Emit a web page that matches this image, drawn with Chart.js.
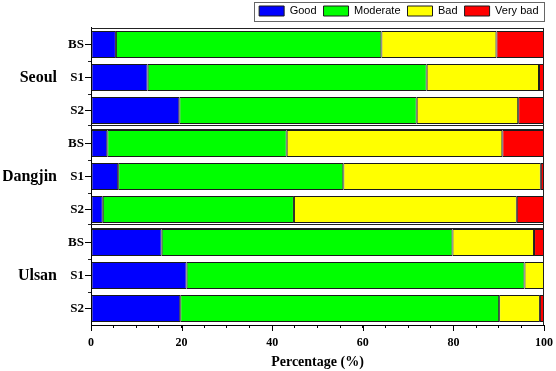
<!DOCTYPE html>
<html>
<head>
<meta charset="utf-8">
<script src="https://cdn.jsdelivr.net/npm/chart.js@4"></script>
<style>
  html, body { margin: 0; padding: 0; background: #fff; }
</style>
</head>
<body>
<canvas id="chart" width="556" height="371"></canvas>
<script>
// sites and scenarios (rows are site x scenario, top to bottom)
const sites = ['Seoul', 'Dangjin', 'Ulsan'];
const scenarios = ['BS', 'S1', 'S2'];

// share of days in each class (%), one value per row
const good     = [5.5, 12.5, 19.5, 3.6, 6.0, 2.6, 15.6, 21.1, 19.7];
const moderate = [58.6, 61.6, 52.4, 39.6, 49.7, 42.2, 64.2, 74.6, 70.4];
const bad      = [25.4, 24.8, 22.4, 47.6, 43.6, 49.2, 18.0, 4.3, 9.0];
const veryBad  = [10.5, 1.1, 5.7, 9.2, 0.7, 6.0, 2.2, 0, 0.9];

const rowLabels = sites.flatMap(() => scenarios);
// site name sits on the middle row of its block
const siteLabels = sites.flatMap(s => scenarios.map((c, i) => i === 1 ? s : ''));

const serif = "'Liberation Serif', 'Times New Roman', serif";
const sans = "'Liberation Sans', Arial, sans-serif";

const datasets = [
    { label: 'Good', data: good, backgroundColor: '#0000ff' },
    { label: 'Moderate', data: moderate, backgroundColor: '#00ff00' },
    { label: 'Bad', data: bad, backgroundColor: '#ffff00' },
    { label: 'Very bad', data: veryBad, backgroundColor: '#ff0000' }
].map(d => Object.assign(d, {
    borderColor: '#1a1a1a',
    borderWidth: 1,
    borderSkipped: false,
    barPercentage: 0.82,
    categoryPercentage: 1
}));

// frame around each site block, with a double rule between blocks
const blockFrames = {
    id: 'blockFrames',
    afterDatasetsDraw(chart) {
        const { ctx, chartArea: a, scales: { x, y } } = chart;
        const n = scenarios.length;
        ctx.save();
        ctx.strokeStyle = '#222';
        ctx.lineWidth = 1;
        ctx.beginPath();
        ctx.moveTo(a.left, Math.round(a.top) + 0.5);
        ctx.lineTo(a.right, Math.round(a.top) + 0.5);
        ctx.moveTo(Math.round(a.right) - 0.5, a.top);
        ctx.lineTo(Math.round(a.right) - 0.5, a.bottom);
        ctx.stroke();
        for (let k = 1; k < rowLabels.length; k++) {
            const yb = (y.getPixelForValue(k - 1) + y.getPixelForValue(k)) / 2;
            const y1 = Math.round(yb - 2) + 0.5;
            const y2 = Math.round(yb + 2) + 0.5;
            ctx.beginPath();
            if (k % n === 0) {
                ctx.fillStyle = '#fff';
                ctx.fillRect(a.left + 1, y1, a.right - a.left - 2, y2 - y1);
                ctx.moveTo(a.left - 3, y1);
                ctx.lineTo(a.right, y1);
                ctx.moveTo(a.left, y2);
                ctx.lineTo(a.right, y2);
            } else {
                // small minor tick between rows
                ctx.moveTo(a.left - 3, Math.round(yb) + 0.5);
                ctx.lineTo(a.left, Math.round(yb) + 0.5);
            }
            ctx.stroke();
        }
        // longer marks for the labelled x ticks
        ctx.strokeStyle = '#000';
        ctx.beginPath();
        x.ticks.forEach(t => {
            if (t.value % 20 !== 0) return;
            const px = Math.round(x.getPixelForValue(t.value)) + 0.5;
            ctx.moveTo(px, a.bottom);
            ctx.lineTo(px, a.bottom + 6);
        });
        ctx.stroke();
        ctx.restore();
    }
};

// thin box around the legend
const legendBox = {
    id: 'legendBox',
    afterDraw(chart) {
        const boxes = chart.legend.legendHitBoxes;
        if (!boxes || !boxes.length) return;
        const first = boxes[0];
        const last = boxes[boxes.length - 1];
        const left = Math.round(first.left - 5) + 0.5;
        const right = Math.round(last.left + last.width + 5) + 0.5;
        const top = Math.round(first.top - 4) + 0.5;
        const bottom = Math.round(first.top + first.height + 4) + 0.5;
        const ctx = chart.ctx;
        ctx.save();
        ctx.strokeStyle = '#666';
        ctx.lineWidth = 1;
        ctx.strokeRect(left, top, right - left, bottom - top);
        ctx.restore();
    }
};

new Chart(document.getElementById('chart'), {
    type: 'bar',
    data: { labels: rowLabels, datasets: datasets },
    plugins: [blockFrames, legendBox],
    options: {
        responsive: false,
        animation: false,
        devicePixelRatio: 1,
        indexAxis: 'y',
        layout: { padding: { left: 3, right: 10.5, top: -1.5, bottom: 0 } },
        plugins: {
            tooltip: { enabled: false },
            legend: {
                position: 'top',
                align: 'end',
                labels: {
                    boxWidth: 25,
                    boxHeight: 10,
                    padding: 7,
                    color: '#000',
                    font: { family: sans, size: 11 }
                }
            },
            subtitle: {
                display: true,
                text: '',
                weight: 500,
                padding: 0,
                font: { size: 1.2 }
            }
        },
        scales: {
            x: {
                stacked: true,
                min: 0,
                max: 100,
                afterFit: s => { s.paddingRight = 12; s.height = 46; },
                ticks: {
                    stepSize: 5,
                    autoSkip: false,
                    maxRotation: 0,
                    padding: 8,
                    color: '#000',
                    font: { family: serif, size: 12, weight: 'bold' },
                    callback: v => v % 20 === 0 ? v : ''
                },
                grid: { drawOnChartArea: false, tickLength: 3, color: '#000' },
                border: { color: '#000' },
                title: {
                    display: true,
                    text: 'Percentage (%)',
                    color: '#000',
                    padding: { top: 3, bottom: 0 },
                    font: { family: serif, size: 14, weight: 'bold' }
                }
            },
            y: {
                stacked: true,
                weight: 0,
                afterFit: s => { s.width = 26; },
                ticks: {
                    autoSkip: false,
                    padding: 1,
                    color: '#000',
                    font: { family: serif, size: 13, weight: 'bold' }
                },
                grid: { drawOnChartArea: false, offset: false, tickLength: 6, color: '#000' },
                border: { color: '#000' }
            },
            site: {
                type: 'category',
                position: 'left',
                labels: siteLabels,
                offset: true,
                weight: 1,
                afterFit: s => { s.width = 62; },
                ticks: {
                    autoSkip: false,
                    padding: 8,
                    color: '#000',
                    font: { family: serif, size: 16, weight: 'bold' }
                },
                grid: { display: false, drawTicks: false },
                border: { display: false }
            }
        }
    }
});
</script>
</body>
</html>
